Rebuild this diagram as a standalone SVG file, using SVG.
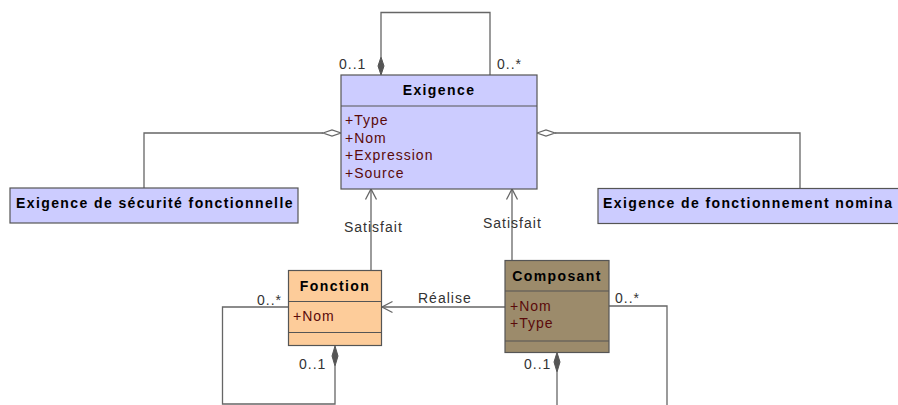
<svg xmlns="http://www.w3.org/2000/svg" width="898" height="405" viewBox="0 0 898 405">
<defs>
<style>
.box{stroke:#555;stroke-width:1.2}
.req{fill:#ccccff}
.fn{fill:#fdcc9a}
.cp{fill:#9c8b6b}
.sep{stroke:#555;stroke-width:1.2;fill:none}
.hd{font-family:"Liberation Sans",Arial,sans-serif;font-size:14px;font-weight:bold;fill:#000;letter-spacing:1.4px}
.at{font-family:"Liberation Sans",Arial,sans-serif;font-size:14px;fill:#5a0a0a;letter-spacing:1px}
.lb{font-family:"Liberation Sans",Arial,sans-serif;font-size:14px;fill:#333;letter-spacing:1px}
.ln{stroke:#666;stroke-width:1.3;fill:none}
.fd{fill:#555;stroke:#555;stroke-width:1}
.od{fill:#fff;stroke:#666;stroke-width:1.2}
</style>
</defs>
<rect width="898" height="405" fill="#fff"/>
<g id="connectors">
<path class="ln" d="M381,57 V12.5 H490 V75"/>
<polygon class="fd" points="381,57 384,66 381,75 378,66"/>
<text class="lb" x="339" y="69">0..1</text>
<text class="lb" x="497" y="69">0..*</text>
<path class="ln" d="M144,188 V133 H323"/>
<polygon class="od" points="323,133 332,130 341,133 332,136"/>
<path class="ln" d="M555,133 H800 V188"/>
<polygon class="od" points="537,133 546,130 555,133 546,136"/>
<path class="ln" d="M371,270.5 V189"/>
<path class="ln" d="M365.5,199.5 L371,189 L376.5,199.5"/>
<text class="lb" x="344" y="232">Satisfait</text>
<path class="ln" d="M512,260.5 V189"/>
<path class="ln" d="M506.5,199.5 L512,189 L517.5,199.5"/>
<text class="lb" x="483" y="228">Satisfait</text>
<path class="ln" d="M505,307 H382"/>
<path class="ln" d="M392.5,301.5 L382,307 L392.5,312.5"/>
<text class="lb" x="418" y="303">Réalise</text>
<path class="ln" d="M288,307 H222.5 V404 H335 V366"/>
<polygon class="fd" points="335,346 338,356 335,366 332,356"/>
<text class="lb" x="257" y="305">0..*</text>
<text class="lb" x="299" y="369">0..1</text>
<path class="ln" d="M609,306 H667 V405"/>
<path class="ln" d="M557,372 V405"/>
<polygon class="fd" points="557,352.5 560,362 557,372 554,362"/>
<text class="lb" x="615" y="303">0..*</text>
<text class="lb" x="524" y="369">0..1</text>
</g>
<g id="exigence">
<rect class="box req" x="341" y="75" width="196" height="114"/>
<line class="sep" x1="341" y1="106" x2="537" y2="106"/>
<text class="hd" x="439" y="95" text-anchor="middle">Exigence</text>
<text class="at" x="345" y="125">+Type</text>
<text class="at" x="345" y="142.5">+Nom</text>
<text class="at" x="345" y="160">+Expression</text>
<text class="at" x="345" y="177.5">+Source</text>
</g>
<g id="exigence-securite">
<rect class="box req" x="10" y="188" width="288" height="35"/>
<text class="hd" x="16" y="208">Exigence de sécurité fonctionnelle</text>
</g>
<g id="exigence-nominal">
<rect class="box req" x="598" y="188.5" width="310" height="35"/>
<text class="hd" x="603" y="208">Exigence de fonctionnement nomina</text>
</g>
<g id="fonction">
<rect class="box fn" x="288.5" y="270.5" width="93" height="75"/>
<line class="sep" x1="288.5" y1="301.5" x2="381.5" y2="301.5"/>
<line class="sep" x1="288.5" y1="332.5" x2="381.5" y2="332.5"/>
<text class="hd" x="335" y="290.5" text-anchor="middle">Fonction</text>
<text class="at" x="293" y="321">+Nom</text>
</g>
<g id="composant">
<rect class="box cp" x="505" y="260.5" width="104" height="92"/>
<line class="sep" x1="505" y1="291" x2="609" y2="291"/>
<line class="sep" x1="505" y1="341" x2="609" y2="341"/>
<text class="hd" x="557" y="281" text-anchor="middle">Composant</text>
<text class="at" x="510" y="311">+Nom</text>
<text class="at" x="510" y="328">+Type</text>
</g>
</svg>
